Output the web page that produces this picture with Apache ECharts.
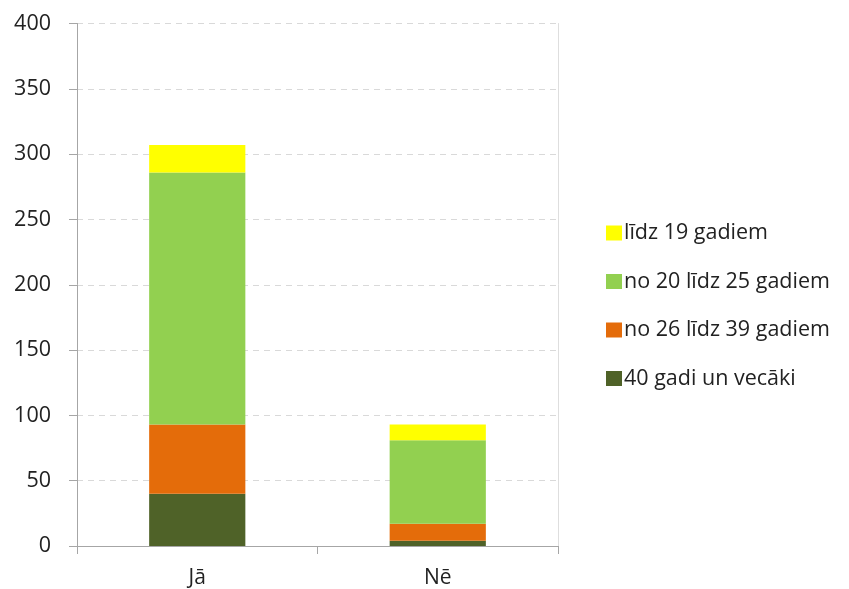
<!DOCTYPE html>
<html>
<head>
<meta charset="utf-8">
<script src="https://cdn.jsdelivr.net/npm/echarts@6/dist/echarts.min.js"></script>
<style>
  html, body { margin: 0; padding: 0; background: #fff; }
  #chart { width: 849px; height: 589px; }
</style>
</head>
<body>
<div id="chart"></div>
<script>
  // kategorijas un vērtības (nolasītas no attēla)
  var categories = ['Jā', 'Nē'];
  var seriesNames = ['40 gadi un vecāki', 'no 26 līdz 39 gadiem', 'no 20 līdz 25 gadiem', 'līdz 19 gadiem'];
  var age40plus = [40, 4];
  var age26to39 = [53, 13];
  var age20to25 = [193, 64];
  var ageTo19 = [21, 12];
  var colors = ['#4F6228', '#E46C0A', '#92D050', '#FFFF00'];

  var font = '"Open Sans", Lato, sans-serif';
  var values = [age40plus, age26to39, age20to25, ageTo19];

  var chart = echarts.init(document.getElementById('chart'));
  chart.setOption({
    animation: false,
    grid: { left: 77, right: 291, top: 23.5, bottom: 41.7 },
    legend: {
      orient: 'vertical',
      left: 601,
      top: 216,
      itemWidth: 16,
      itemHeight: 15,
      itemGap: 24.5,
      icon: 'rect',
      data: seriesNames.slice().reverse(),
      textStyle: { fontFamily: font, fontSize: 21.5, color: '#222', lineHeight: 24, padding: [0, 0, 0, -3] }
    },
    xAxis: {
      type: 'category',
      data: categories,
      axisLine: { lineStyle: { color: '#a6a6a6' } },
      axisTick: { show: true, length: 8, lineStyle: { color: '#a6a6a6' } },
      axisLabel: { fontFamily: font, fontSize: 21, color: '#222', margin: 22 }
    },
    yAxis: [{
      type: 'value',
      min: 0,
      max: 400,
      interval: 50,
      axisLine: { show: true, lineStyle: { color: '#a6a6a6' } },
      axisTick: { show: true, length: 8, lineStyle: { color: '#a6a6a6' } },
      axisLabel: { fontFamily: font, fontSize: 21.5, color: '#222', margin: 26 },
      splitLine: { show: true, lineStyle: { color: '#d9d9d9', type: [6, 5] } }
    }, {
      type: 'value',
      position: 'right',
      min: 0,
      max: 400,
      interval: 50,
      axisLine: { show: true, lineStyle: { color: '#dedede' } },
      axisTick: { show: false },
      axisLabel: { show: false },
      splitLine: { show: false }
    }],
    series: seriesNames.map(function (name, i) {
      return {
        name: name,
        type: 'bar',
        stack: 'total',
        barWidth: '40%',
        itemStyle: { color: colors[i] },
        data: values[i]
      };
    })
  });
</script>
</body>
</html>
